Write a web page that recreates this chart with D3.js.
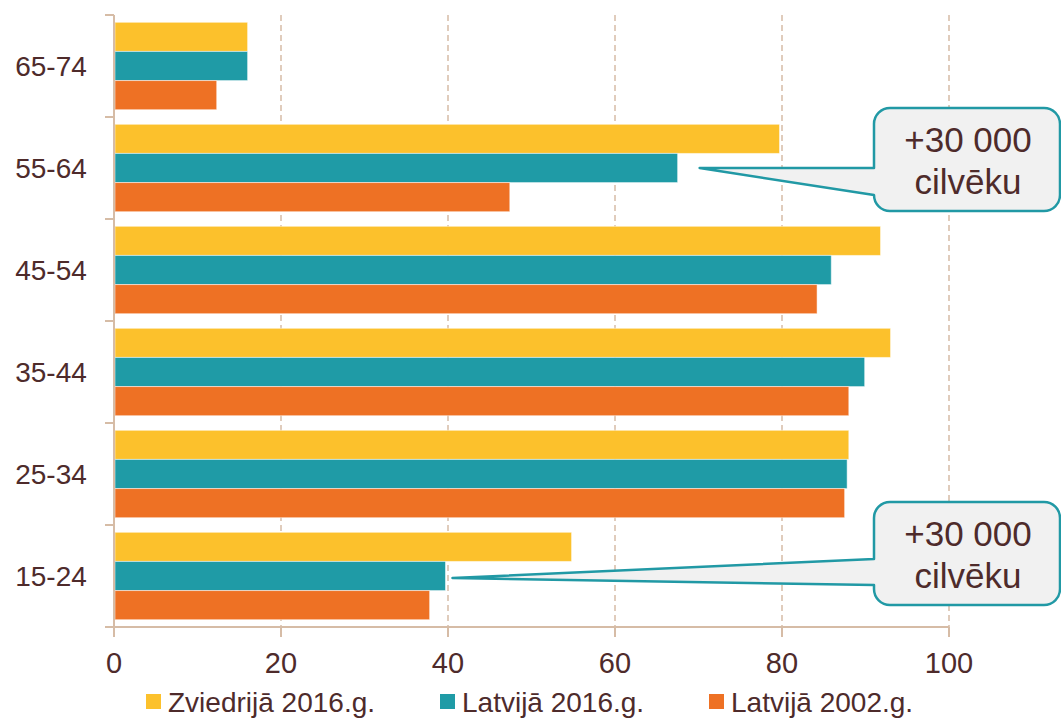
<!DOCTYPE html>
<html>
<head>
<meta charset="utf-8">
<script src="https://cdn.jsdelivr.net/npm/d3@7"></script>
<style>
  body { margin: 0; background: #fff; }
  text { font-family: Arial, "Liberation Sans", sans-serif; fill: #4e2b2b; }
</style>
</head>
<body>
<div id="chart"></div>
<script>
var width = 1061
var height = 719

// age groups, top to bottom
var ageGroups = ["65-74", "55-64", "45-54", "35-44", "25-34", "15-24"]
var seriesNames = ["Zviedrijā 2016.g.", "Latvijā 2016.g.", "Latvijā 2002.g."]
var seriesColors = ["#fcc12c", "#1f9ba6", "#ee7124"]

var sweden2016 = [16, 79.7, 91.8, 93, 88, 54.8]
var latvia2016 = [16, 67.5, 85.9, 89.9, 87.8, 39.7]
var latvia2002 = [12.3, 47.4, 84.2, 88, 87.5, 37.8]
var seriesValues = [sweden2016, latvia2016, latvia2002]

var xTicks = [0, 20, 40, 60, 80, 100]

// callouts point at the Latvija 2016 bar
var callouts = [
  { group: "55-64", text: ["+30 000", "cilvēku"] },
  { group: "15-24", text: ["+30 000", "cilvēku"] }
]

var axisColor = "#d6bca6"

var svg = d3.select("#chart")
  .append("svg")
    .attr("width", width)
    .attr("height", height)

var x = d3.scaleLinear()
    .domain([0, 100])
    .range([114, 949])

var y0 = d3.scaleBand()
    .domain(ageGroups)
    .range([15, 627])

var y1 = d3.scaleBand()
    .domain(seriesNames)
    .range([0, y0.bandwidth()])
    .paddingOuter(0.25)

// dashed grid
svg.append("g")
  .selectAll("line")
  .data(xTicks.slice(1))
  .enter()
  .append("line")
    .attr("x1", function(d){ return x(d) })
    .attr("x2", function(d){ return x(d) })
    .attr("y1", 15)
    .attr("y2", 627)
    .attr("stroke", axisColor)
    .attr("stroke-width", 1.5)
    .attr("stroke-dasharray", "6,4")

// bars
var rows = []
ageGroups.forEach(function(g, i){
  seriesNames.forEach(function(s, j){
    rows.push({ group: g, series: s, value: seriesValues[j][i], color: seriesColors[j] })
  })
})

svg.append("g")
  .selectAll("rect")
  .data(rows)
  .enter()
  .append("rect")
    .attr("x", x(0) + 1)
    .attr("y", function(d){ return y0(d.group) + y1(d.series) })
    .attr("width", function(d){ return x(d.value) - x(0) - 1 })
    .attr("height", y1.bandwidth())
    .attr("fill", function(d){ return d.color })
    .attr("stroke", "#fff")
    .attr("stroke-opacity", 0.5)
    .attr("stroke-width", 1)

// y axis
var yAxis = svg.append("g")
yAxis.append("line")
    .attr("x1", x(0)).attr("x2", x(0))
    .attr("y1", 15).attr("y2", 628)
    .attr("stroke", axisColor).attr("stroke-width", 2)
yAxis.selectAll(".tick")
  .data(ageGroups.concat(["end"]))
  .enter()
  .append("line")
    .attr("x1", x(0) - 9).attr("x2", x(0))
    .attr("y1", function(d){ return d == "end" ? 627 : y0(d) })
    .attr("y2", function(d){ return d == "end" ? 627 : y0(d) })
    .attr("stroke", axisColor).attr("stroke-width", 2)
yAxis.selectAll("text")
  .data(ageGroups)
  .enter()
  .append("text")
    .attr("x", 51)
    .attr("y", function(d){ return y0(d) + y0.bandwidth() / 2 + 10 })
    .attr("text-anchor", "middle")
    .style("font-size", "28px")
    .text(function(d){ return d })

// x axis
var xAxis = svg.append("g")
xAxis.append("line")
    .attr("x1", x(0) - 9).attr("x2", x(100))
    .attr("y1", 627).attr("y2", 627)
    .attr("stroke", axisColor).attr("stroke-width", 2)
xAxis.selectAll(".tick")
  .data(xTicks)
  .enter()
  .append("line")
    .attr("x1", function(d){ return x(d) })
    .attr("x2", function(d){ return x(d) })
    .attr("y1", 627).attr("y2", 637)
    .attr("stroke", axisColor).attr("stroke-width", 2)
xAxis.selectAll("text")
  .data(xTicks)
  .enter()
  .append("text")
    .attr("x", function(d){ return x(d) })
    .attr("y", 673)
    .attr("text-anchor", "middle")
    .style("font-size", "29px")
    .text(function(d){ return d })

// legend
var legendX = [146, 440, 709]
var legend = svg.append("g")
  .selectAll("g")
  .data(seriesNames)
  .enter()
  .append("g")
    .attr("transform", function(d, i){ return "translate(" + legendX[i] + ",0)" })
legend.append("rect")
    .attr("x", 0).attr("y", 694)
    .attr("width", 15).attr("height", 15)
    .attr("fill", function(d, i){ return seriesColors[i] })
legend.append("text")
    .attr("x", 22).attr("y", 712)
    .style("font-size", "28px")
    .text(function(d){ return d })

// callouts
var boxX = 874, boxW = 186, boxH = 103, r = 16
var tipOffset = [22, 7]
var attach = [[0, 27], [-19, 7]] // upper / lower join on box edge, relative to tip y
var boxTop = [108, 502]

callouts.forEach(function(c, i){
  var yIdx = ageGroups.indexOf(c.group)
  var tipX = x(latvia2016[yIdx]) + tipOffset[i]
  var tipY = y0(c.group) + y1(seriesNames[1]) + y1.bandwidth() / 2 + (i == 1 ? 2 : 0)
  var top = boxTop[i], bottom = top + boxH, right = boxX + boxW
  var p = d3.path()
  p.moveTo(boxX, tipY + attach[i][0])
  p.lineTo(tipX, tipY)
  p.lineTo(boxX, tipY + attach[i][1])
  p.lineTo(boxX, bottom - r)
  p.arcTo(boxX, bottom, boxX + r, bottom, r)
  p.lineTo(right - r, bottom)
  p.arcTo(right, bottom, right, bottom - r, r)
  p.lineTo(right, top + r)
  p.arcTo(right, top, right - r, top, r)
  p.lineTo(boxX + r, top)
  p.arcTo(boxX, top, boxX, top + r, r)
  p.closePath()
  svg.append("path")
    .attr("d", p.toString())
    .attr("fill", "#f1f1f1")
    .attr("stroke", "#2199a5")
    .attr("stroke-width", 2.5)
    .attr("stroke-linejoin", "round")
  svg.append("text")
    .attr("x", boxX + boxW / 2 + 1)
    .attr("y", top + 44)
    .attr("text-anchor", "middle")
    .style("font-size", "35px")
    .text(c.text[0])
  svg.append("text")
    .attr("x", boxX + boxW / 2 + 1)
    .attr("y", top + 86)
    .attr("text-anchor", "middle")
    .style("font-size", "35px")
    .text(c.text[1])
})
</script>
</body>
</html>
